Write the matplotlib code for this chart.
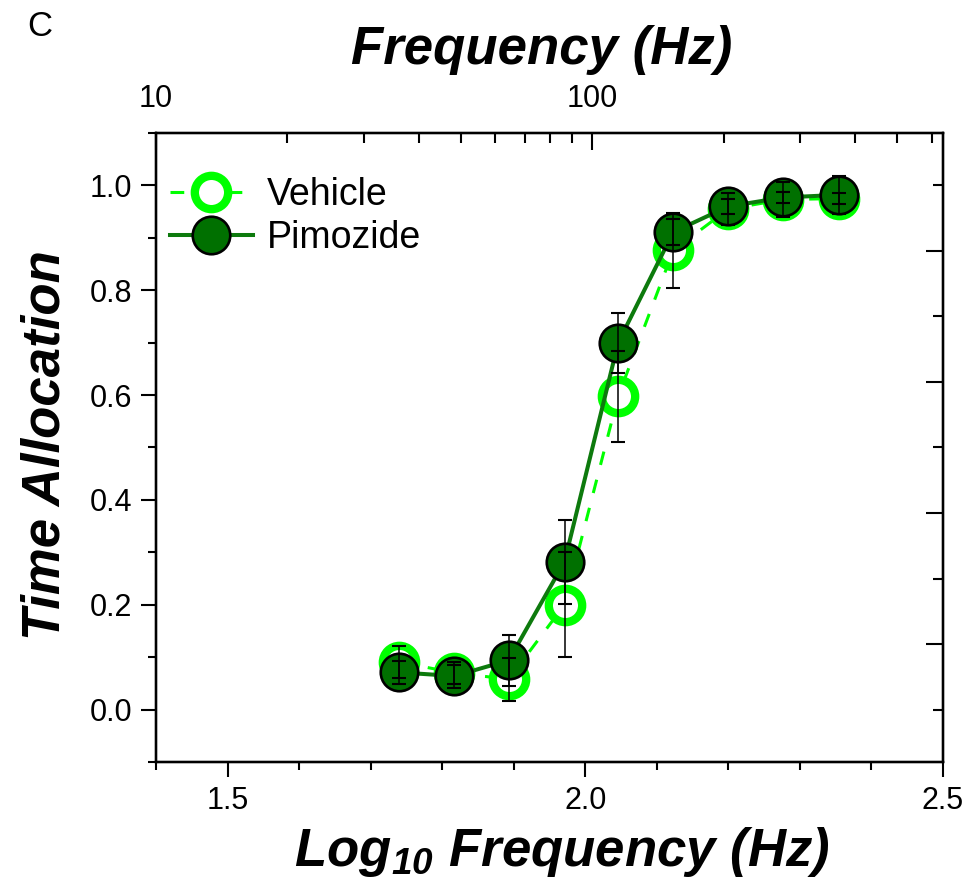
import matplotlib
matplotlib.use('Agg')
import matplotlib.pyplot as plt
from matplotlib.ticker import MultipleLocator, FixedLocator, FormatStrFormatter, FixedFormatter, NullFormatter

plt.rcParams['font.family'] = ['Liberation Sans', 'DejaVu Sans']
plt.rcParams['mathtext.fontset'] = 'custom'
plt.rcParams['mathtext.rm'] = 'Liberation Sans:bold:italic'
plt.rcParams['mathtext.it'] = 'Liberation Sans:bold:italic'
plt.rcParams['mathtext.bf'] = 'Liberation Sans:bold:italic'

# ---- data ----
log_freq = [1.740, 1.817, 1.893, 1.971, 2.046, 2.123, 2.200, 2.277, 2.354]
vehicle = [0.091, 0.070, 0.058, 0.200, 0.598, 0.876, 0.955, 0.973, 0.975]
vehicle_err = [0.030, 0.021, 0.041, 0.100, 0.087, 0.072, 0.031, 0.033, 0.010]
pimozide = [0.071, 0.064, 0.094, 0.282, 0.700, 0.911, 0.960, 0.977, 0.982]
pimozide_err = [0.022, 0.022, 0.049, 0.080, 0.057, 0.025, 0.014, 0.011, 0.036]

bottom_ticks = [1.5, 2.0, 2.5]
left_ticks = [0.0, 0.2, 0.4, 0.6, 0.8, 1.0]
top_ticks = [10, 100]
top_ticklabels = ['10', '100']
top_minor = [20, 30, 40, 50, 60, 70, 80, 90, 200, 300, 400, 500, 600]
right_major = [0.125, 0.375, 0.625, 0.875]
right_minor = [0.0, 0.25, 0.5, 0.75, 1.0]

veh_color = '#00ff00'
pim_fill = '#007000'
pim_line = '#0d7a0d'

fig = plt.figure(figsize=(9.71, 8.85), dpi=100)
ax = fig.add_axes([156/971, 1-762/885, (943-156)/971, (762-133)/885])

ax.set_xlim(1.4, 2.5)
ax.set_ylim(-0.1, 1.1)

l_veh, = ax.plot(log_freq, vehicle, color=veh_color, lw=2.2, dashes=(4.5, 5),
                 marker='o', ms=24, mew=6, mfc='white', mec=veh_color,
                 label='Vehicle', zorder=3)
l_pim, = ax.plot(log_freq, pimozide, color=pim_line, lw=2.9,
                 marker='o', ms=27, mew=1.9, mfc=pim_fill, mec='black',
                 label='Pimozide', zorder=4)
ax.errorbar(log_freq, vehicle, yerr=vehicle_err, fmt='none', ecolor='black',
            elinewidth=1.1, capsize=4.8, capthick=1.5, zorder=5)
ax.errorbar(log_freq, pimozide, yerr=pimozide_err, fmt='none', ecolor='black',
            elinewidth=1.1, capsize=4.8, capthick=1.5, zorder=5)

for s in ax.spines.values():
    s.set_linewidth(1.6)

ax.xaxis.set_major_locator(FixedLocator(bottom_ticks))
ax.xaxis.set_minor_locator(MultipleLocator(0.1))
ax.xaxis.set_major_formatter(FormatStrFormatter('%.1f'))
ax.yaxis.set_major_locator(FixedLocator(left_ticks))
ax.yaxis.set_minor_locator(MultipleLocator(0.1))
ax.yaxis.set_major_formatter(FormatStrFormatter('%.1f'))
ax.tick_params(which='major', direction='out', length=11, width=1.5,
               labelsize=22, pad=6, top=False, right=False)
ax.tick_params(which='minor', direction='out', length=6, width=1.5,
               top=False, right=False)

# top log axis
axt = ax.twiny()
axt.set_xscale('log')
axt.set_xlim(10, 10 ** (1 + 1.1 * 715 / 436))
axt.xaxis.set_major_locator(FixedLocator(top_ticks))
axt.xaxis.set_major_formatter(FixedFormatter(top_ticklabels))
axt.xaxis.set_minor_locator(FixedLocator(top_minor))
axt.xaxis.set_minor_formatter(NullFormatter())
axt.tick_params(which='major', direction='in', length=12, width=1.5,
                labelsize=22, pad=14)
axt.tick_params(which='minor', direction='in', length=7, width=1.5)
for s in axt.spines.values():
    s.set_linewidth(1.6)

# right axis ticks
axr = ax.twinx()
axr.set_ylim(-0.1, 1.1)
axr.yaxis.set_major_locator(FixedLocator(right_major))
axr.yaxis.set_minor_locator(FixedLocator(right_minor))
axr.yaxis.set_major_formatter(NullFormatter())
axr.yaxis.set_minor_formatter(NullFormatter())
axr.tick_params(which='major', direction='in', length=12, width=1.5)
axr.tick_params(which='minor', direction='in', length=7, width=1.5)
for s in axr.spines.values():
    s.set_linewidth(1.6)

fig.legend(handles=[l_veh, l_pim], loc='upper left',
           bbox_to_anchor=(170/971, 1-177/885), bbox_transform=fig.transFigure,
           frameon=False, fontsize=27, handlelength=2.2, handletextpad=0.37,
           labelspacing=0.2, borderpad=0, borderaxespad=0)

fig.text(562/971, 1-852/885, 'Log$_{10}$ Frequency (Hz)', fontsize=38,
         fontweight='bold', style='italic', ha='center', va='center')
fig.text(542/971, 1-50/885, 'Frequency (Hz)', fontsize=38,
         fontweight='bold', style='italic', ha='center', va='center')
fig.text(45/971, 1-445/885, 'Time Allocation', fontsize=38, rotation=90,
         fontweight='bold', style='italic', ha='center', va='center')
fig.text(27/971, 1-10/885, 'C', fontsize=25, ha='left', va='top')

fig.savefig('out.png', dpi=100)
